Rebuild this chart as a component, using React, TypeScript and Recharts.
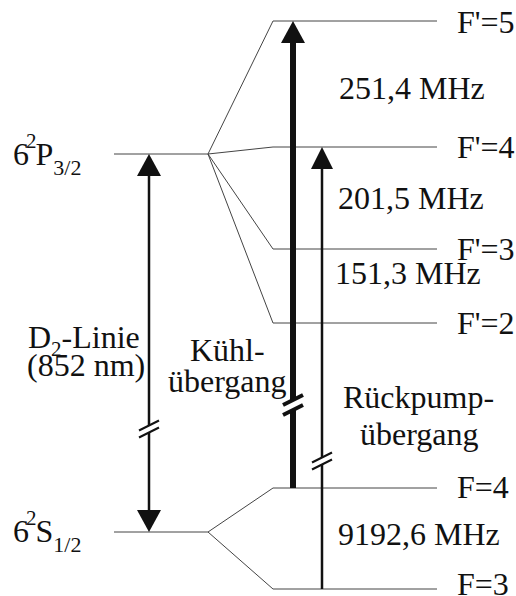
import { ComposedChart, Line, XAxis, YAxis, ReferenceDot } from 'recharts'

// schematic energy scale (not to scale, like the original sketch)
const FINE_NAMES = ['6²S1/2', '6²P3/2']
const FINE_ENERGY = [57, 435]

const HYPERFINE_NAMES = ['F=3', 'F=4', "F'=2", "F'=3", "F'=4", "F'=5"]
const HYPERFINE_ENERGY = [0, 101, 266, 340, 442, 568]
const HYPERFINE_PARENT = [0, 0, 1, 1, 1, 1]

const SPLITTING_LABELS = ['9192,6 MHz', '151,3 MHz', '201,5 MHz', '251,4 MHz']

const TRANSITION_NAMES = ['D2', 'cool', 'repump']
const TRANSITION_FROM = [57, 101, 0]
const TRANSITION_TO = [435, 568, 442]
const TRANSITION_BREAK = [160, 184, 128]

// layout
const W = 516
const H = 596
const FINE_X = [114, 208]
const HF_X = [273, 437]
const ARROW_X = [149, 293, 322]
const ARROW_WIDTH = [2.5, 6, 2.5]
const ARROW_BOTH = [true, false, false]
const HEAD_LEN = 22
const HEAD_HALF = [12, 12, 11]
const FONT = "'Liberation Serif', 'Times New Roman', Times, 'DejaVu Serif', serif"
const FS = 32
const INK = '#111'

const LABEL_POS: Record<string, [number, number]> = {
  "F'=5": [457, 556], "F'=4": [457, 431], "F'=3": [457, 329], "F'=2": [457, 255],
  'F=4': [457, 91], 'F=3': [457, -6],
  '251,4 MHz': [339, 490], '201,5 MHz': [338, 380], '151,3 MHz': [335, 305], '9192,6 MHz': [338, 44],
}

const fineLines = FINE_NAMES.map((n, i) => ({
  name: n,
  data: [{ x: FINE_X[0], y: FINE_ENERGY[i] }, { x: FINE_X[1], y: FINE_ENERGY[i] }],
}))

const hfLines = HYPERFINE_NAMES.map((n, i) => ({
  name: n,
  data: [
    { x: FINE_X[1], y: FINE_ENERGY[HYPERFINE_PARENT[i]] },
    { x: HF_X[0], y: HYPERFINE_ENERGY[i] },
    { x: HF_X[1], y: HYPERFINE_ENERGY[i] },
  ],
}))

// shafts end where the arrowhead starts
const shafts = TRANSITION_NAMES.map((n, i) => ({
  name: n,
  data: [
    { x: ARROW_X[i], y: TRANSITION_FROM[i] + (ARROW_BOTH[i] ? HEAD_LEN : 0) },
    { x: ARROW_X[i], y: TRANSITION_TO[i] - HEAD_LEN },
  ],
}))

const textStyle = { fontFamily: FONT, fontSize: FS, fill: INK }

const Head = ({ cx, cy, half, up }: any) => (
  <polygon
    points={`${cx},${cy} ${cx - half},${cy + (up ? HEAD_LEN : -HEAD_LEN)} ${cx + half},${cy + (up ? HEAD_LEN : -HEAD_LEN)}`}
    fill={INK}
  />
)

const BreakMark = ({ cx, cy, thick }: any) => {
  const gap = thick ? 5 : 3.5
  const t = thick ? 4 : 2
  const dx = 10, dy = 5
  const cover = thick ? 6 : 4
  return (
    <g>
      <polygon
        points={`${cx - cover},${cy - gap + cover / 2} ${cx + cover},${cy - gap - cover / 2} ${cx + cover},${cy + gap - cover / 2} ${cx - cover},${cy + gap + cover / 2}`}
        fill="#fff"
      />
      <line x1={cx - dx} y1={cy - gap + dy} x2={cx + dx} y2={cy - gap - dy} stroke={INK} strokeWidth={t} />
      <line x1={cx - dx} y1={cy + gap + dy} x2={cx + dx} y2={cy + gap - dy} stroke={INK} strokeWidth={t} />
    </g>
  )
}

const Txt = ({ cx, cy, text }: any) => (
  <text x={cx} y={cy} style={textStyle}>{text}</text>
)

const StateLabel = ({ cx, cy, letter, sub }: any) => (
  <text x={cx} y={cy} style={textStyle}>
    <tspan>6</tspan>
    <tspan dx={-3} dy={-17} style={{ fontSize: 21 }}>2</tspan>
    <tspan dx={-1} dy={17}>{letter}</tspan>
    <tspan dy={10} style={{ fontSize: 22 }}>{sub}</tspan>
  </text>
)

const D2Label = ({ cx, cy }: any) => (
  <text x={cx} y={cy} style={textStyle}>
    <tspan>D</tspan>
    <tspan dy={8} style={{ fontSize: 21 }}>2</tspan>
    <tspan dy={-8}>-Linie</tspan>
  </text>
)

export default function App() {
  return (
    <div style={{ position: 'absolute', left: 0, top: 0, background: '#fff' }}>
      <ComposedChart width={W} height={H} margin={{ top: 0, right: 0, bottom: 0, left: 0 }}>
        <XAxis type="number" dataKey="x" domain={[0, W]} hide allowDataOverflow />
        <YAxis type="number" dataKey="y" domain={[-7, H - 7]} hide allowDataOverflow />

        {fineLines.map(s => (
          <Line key={s.name} data={s.data} dataKey="y" type="linear" stroke="#444" strokeWidth={1}
            dot={false} activeDot={false} isAnimationActive={false} />
        ))}
        {hfLines.map(s => (
          <Line key={s.name} data={s.data} dataKey="y" type="linear" stroke="#444" strokeWidth={1}
            dot={false} activeDot={false} isAnimationActive={false} />
        ))}
        {shafts.map((s, i) => (
          <Line key={s.name} data={s.data} dataKey="y" type="linear" stroke={INK} strokeWidth={ARROW_WIDTH[i]}
            strokeLinecap="butt" dot={false} activeDot={false} isAnimationActive={false} />
        ))}

        {TRANSITION_NAMES.map((n, i) => (
          <ReferenceDot key={n + 'up'} x={ARROW_X[i]} y={TRANSITION_TO[i]} ifOverflow="visible"
            shape={(p: any) => <Head cx={p.cx} cy={p.cy} half={HEAD_HALF[i]} up />} />
        ))}
        {TRANSITION_NAMES.filter((_, i) => ARROW_BOTH[i]).map((n, i) => (
          <ReferenceDot key={n + 'down'} x={ARROW_X[i]} y={TRANSITION_FROM[i]} ifOverflow="visible"
            shape={(p: any) => <Head cx={p.cx} cy={p.cy} half={HEAD_HALF[i]} up={false} />} />
        ))}
        {TRANSITION_NAMES.map((n, i) => (
          <ReferenceDot key={n + 'brk'} x={ARROW_X[i]} y={TRANSITION_BREAK[i]} ifOverflow="visible"
            shape={(p: any) => <BreakMark cx={p.cx} cy={p.cy} thick={ARROW_WIDTH[i] > 4} />} />
        ))}

        {[...HYPERFINE_NAMES, ...SPLITTING_LABELS].map(t => (
          <ReferenceDot key={t} x={LABEL_POS[t][0]} y={LABEL_POS[t][1]} ifOverflow="visible"
            shape={(p: any) => <Txt cx={p.cx} cy={p.cy} text={t} />} />
        ))}

        <ReferenceDot x={13} y={424} ifOverflow="visible"
          shape={(p: any) => <StateLabel cx={p.cx} cy={p.cy} letter="P" sub="3/2" />} />
        <ReferenceDot x={13} y={47} ifOverflow="visible"
          shape={(p: any) => <StateLabel cx={p.cx} cy={p.cy} letter="S" sub="1/2" />} />
        <ReferenceDot x={28} y={241} ifOverflow="visible" shape={(p: any) => <D2Label cx={p.cx} cy={p.cy} />} />
        <ReferenceDot x={27} y={213} ifOverflow="visible" shape={(p: any) => <Txt cx={p.cx} cy={p.cy} text="(852 nm)" />} />
        <ReferenceDot x={190} y={228} ifOverflow="visible" shape={(p: any) => <Txt cx={p.cx} cy={p.cy} text="Kühl-" />} />
        <ReferenceDot x={168} y={197} ifOverflow="visible" shape={(p: any) => <Txt cx={p.cx} cy={p.cy} text="übergang" />} />
        <ReferenceDot x={343} y={181} ifOverflow="visible" shape={(p: any) => <Txt cx={p.cx} cy={p.cy} text="Rückpump-" />} />
        <ReferenceDot x={360} y={144} ifOverflow="visible" shape={(p: any) => <Txt cx={p.cx} cy={p.cy} text="übergang" />} />
      </ComposedChart>
    </div>
  )
}
